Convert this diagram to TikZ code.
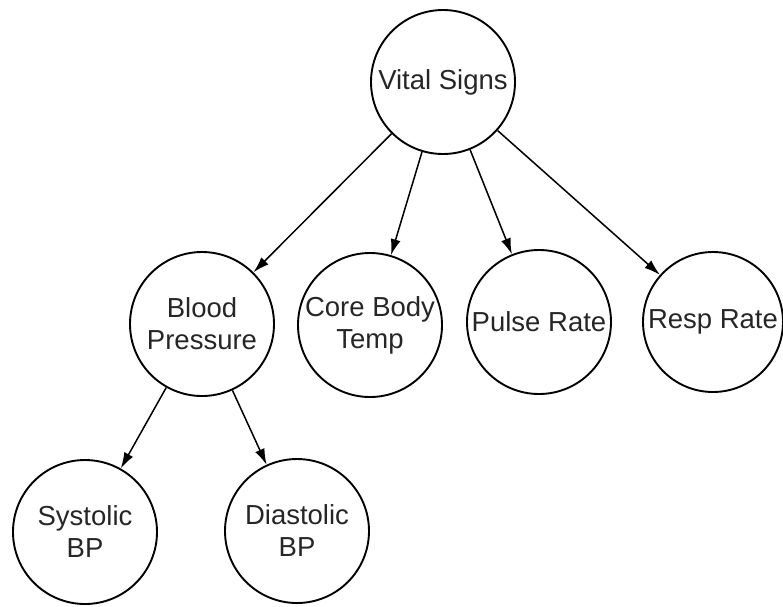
\documentclass[tikz,border=0pt]{standalone}
\usepackage{fontspec}
\setmainfont{Liberation Sans}
\usetikzlibrary{arrows.meta}
\begin{document}
\begin{tikzpicture}[x=1pt,y=-1pt,
  vnode/.style={circle,draw=black,line width=1.9pt,minimum size=144pt,inner sep=0pt,
    align=center,font=\fontsize{27.5}{32}\selectfont,text=black!85},
  conn/.style={draw=black,line width=1.5pt,-{Latex[length=16pt,width=10pt]}}]
\useasboundingbox (0,0) rectangle (783,606);
\node[vnode] (vs) at (443,82) {Vital Signs};
\node[vnode] (bp) at (202,324) {Blood\\Pressure};
\node[vnode] (cbt) at (370,325) {Core Body\\Temp};
\node[vnode] (pr) at (539,322) {Pulse Rate};
\node[vnode,minimum size=140pt] (rr) at (713,322) {Resp Rate};
\node[vnode] (sys) at (85,532) {Systolic\\BP};
\node[vnode] (dia) at (297,531) {Diastolic\\BP};
\draw[conn] (vs) -- (bp);
\draw[conn] (vs) -- (cbt);
\draw[conn] (vs) -- (pr);
\draw[conn] (vs) -- (rr);
\draw[conn] (bp) -- (sys);
\draw[conn] (bp) -- (dia);
\end{tikzpicture}
\end{document}
